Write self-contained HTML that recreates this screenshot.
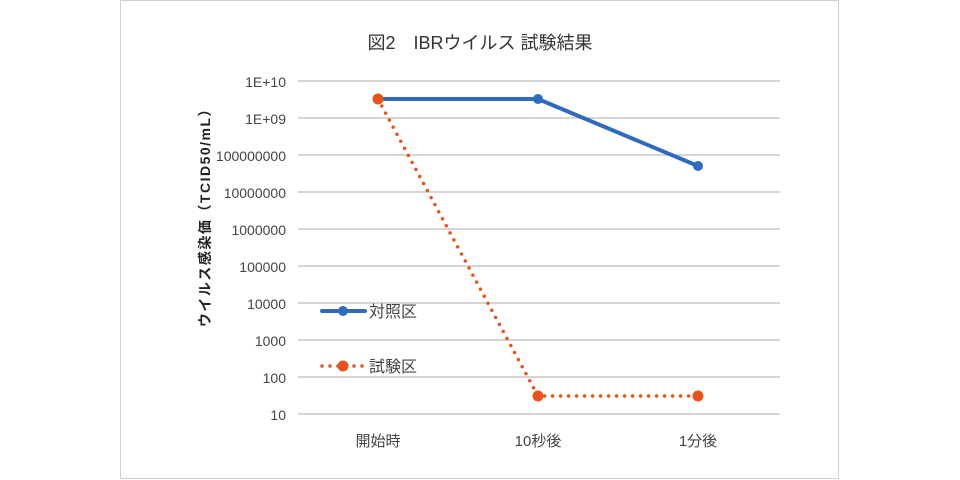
<!DOCTYPE html>
<html><head><meta charset="utf-8"><style>
body{margin:0;background:#fff;}
svg{display:block;font-family:"Liberation Sans","Noto Sans CJK JP",sans-serif;}
</style></head><body>
<svg width="960" height="480" viewBox="0 0 960 480">
<rect x="120.5" y="0.5" width="718" height="478" fill="#fff" stroke="#d0d0d0"/>
<text x="480" y="49" text-anchor="middle" font-size="18" fill="#333">図2　IBRウイルス  試験結果</text>
<g stroke="#c8c8c8" stroke-width="1.5">
<line x1="298" x2="780" y1="81" y2="81"/><line x1="298" x2="780" y1="118" y2="118"/>
<line x1="298" x2="780" y1="155" y2="155"/><line x1="298" x2="780" y1="192" y2="192"/>
<line x1="298" x2="780" y1="229" y2="229"/><line x1="298" x2="780" y1="266" y2="266"/>
<line x1="298" x2="780" y1="303" y2="303"/><line x1="298" x2="780" y1="340" y2="340"/>
<line x1="298" x2="780" y1="377" y2="377"/><line x1="298" x2="780" y1="414" y2="414"/>
</g>
<g font-size="14" fill="#444" text-anchor="end">
<text x="286" y="87">1E+10</text><text x="286" y="124">1E+09</text>
<text x="286" y="161">100000000</text><text x="286" y="198">10000000</text>
<text x="286" y="235">1000000</text><text x="286" y="272">100000</text>
<text x="286" y="309">10000</text><text x="286" y="346">1000</text>
<text x="286" y="383">100</text><text x="286" y="420">10</text>
</g>
<g font-size="15" fill="#444" text-anchor="middle">
<text x="378" y="446">開始時</text><text x="538" y="446">10秒後</text><text x="698" y="446">1分後</text>
</g>
<text transform="translate(210,214) rotate(-90)" text-anchor="middle" font-size="14" font-weight="bold" fill="#222" letter-spacing="1.5">ウイルス感染価（TCID50/mL）</text>
<polyline points="378,99 538,99 698,166" fill="none" stroke="#2e6bbf" stroke-width="4"/>
<circle cx="538" cy="99" r="5" fill="#2e6bbf"/><circle cx="698" cy="166" r="5" fill="#2e6bbf"/>
<polyline points="378,99 538,396 698,396" fill="none" stroke="#e8531a" stroke-width="3.5" stroke-dasharray="0 8" stroke-linecap="round"/>
<circle cx="378" cy="99" r="5.5" fill="#e8531a"/><circle cx="538" cy="396" r="5.5" fill="#e8531a"/><circle cx="698" cy="396" r="5.5" fill="#e8531a"/>
<line x1="322" x2="365" y1="311" y2="311" stroke="#2e6bbf" stroke-width="4" stroke-linecap="round"/>
<circle cx="343" cy="311" r="5" fill="#2e6bbf"/>
<text x="369" y="317" font-size="16" fill="#444">対照区</text>
<line x1="322" x2="365" y1="366" y2="366" stroke="#e8531a" stroke-width="3.5" stroke-dasharray="0 8" stroke-linecap="round"/>
<circle cx="343" cy="366" r="5.5" fill="#e8531a"/>
<text x="369" y="372" font-size="16" fill="#444">試験区</text>
</svg>
</body></html>
